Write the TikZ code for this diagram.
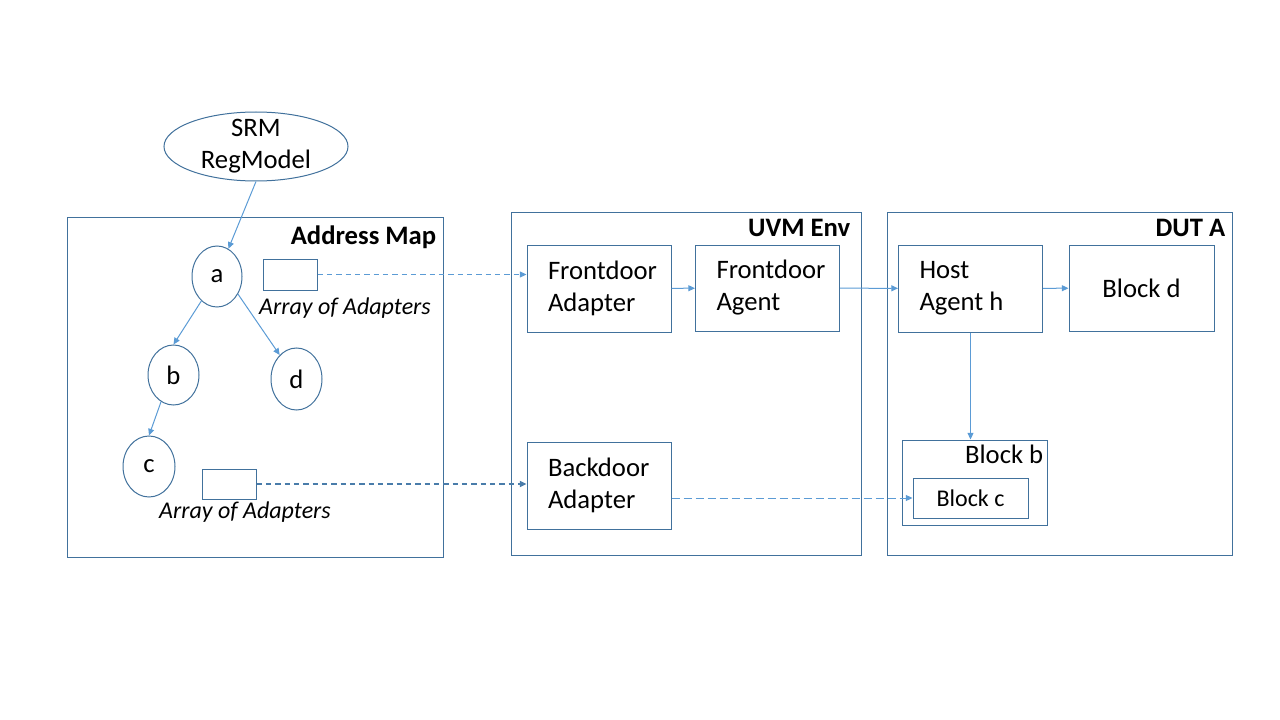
\documentclass[tikz,border=0pt]{standalone}
\usepackage{fontspec}
\setmainfont{Carlito}
\usetikzlibrary{arrows.meta,shapes.geometric,positioning}
\definecolor{boxblue}{HTML}{41719C}
\definecolor{linkblue}{HTML}{5B9BD5}

\tikzset{
    >={Triangle[length=5pt,width=4.5pt]},
    box/.style={draw=boxblue, line width=0.75pt, inner sep=0pt, font=\fontsize{20}{24}\selectfont},
    blk/.style={box, align=flush left, text width=76.5pt, inner xsep=15.75pt},
    oval/.style={box, ellipse},
    title/.style={anchor=north east, inner sep=0pt, font=\fontsize{20}{24}\selectfont\bfseries},
    note/.style={inner sep=0pt, font=\fontsize{18}{22}\selectfont\itshape},
    link/.style={->, draw=linkblue, line width=0.75pt},
    dlink/.style={link, dash pattern=on 4pt off 3pt},
}

\begin{document}
\begin{tikzpicture}[x=0.75pt, y=-0.75pt]
    \useasboundingbox (0,0) rectangle (1280,720);
    % frames:
    \node[box, minimum width=282pt, minimum height=254.25pt] (amap) at (255,387.5) {};
    \node[box, minimum width=262.5pt, minimum height=256.5pt] (uvm) at (686,384) {};
    \node[box, minimum width=258.75pt, minimum height=256.5pt] (dut) at (1059.5,384) {};
    \node[title] at ([xshift=-5.25pt, yshift=-6pt]amap.north east) {Address Map};
    \node[title] at ([xshift=-8.25pt, yshift=-4.5pt]uvm.north east) {UVM Env};
    \node[title] at ([xshift=-5.25pt, yshift=-4.5pt]dut.north east) {DUT A};
    % reg model:
    \node[oval, inner sep=-5pt, align=center, minimum width=138pt, minimum height=51.75pt] (srm) at (256,146.5) {SRM\\RegModel};
    \node[oval, minimum width=37.5pt, minimum height=45.75pt] (a) at (217,276.5) {a};
    \node[oval, minimum width=38.25pt, minimum height=45pt] (b) at (173.5,375) {b};
    \node[oval, minimum width=38.25pt, minimum height=46.5pt] (d) at (296.5,379) {d};
    \node[oval, minimum width=39pt, minimum height=45.75pt] (c) at (149,466.5) {c};
    \node[box, minimum width=40.5pt, minimum height=23.25pt] (arr1) at (290,274.5) {};
    \node[box, minimum width=40.5pt, minimum height=22.5pt] (arr2) at (229,484) {};
    \node[note] (arr1txt) at (345,308) {Array of Adapters};
    \node[note] (arr2txt) at (245,512) {Array of Adapters};
    % blocks:
    \node[blk, minimum height=65.25pt] (fda) at (599,288.5) {Frontdoor\\Adapter};
    \node[blk, minimum height=64.5pt] (fag) at (767.5,288) {Frontdoor\\Agent};
    \node[blk, minimum height=65.25pt] (bda) at (599,485.5) {Backdoor\\Adapter};
    \node[blk, minimum height=65.25pt] (host) at (970.5,288.5) {Host\\Agent h};
    \node[box, minimum width=108.75pt, minimum height=64.5pt] (blkd) at (1141.5,288) {Block d};
    \node[box, minimum width=108.75pt, minimum height=63.75pt] (blkb) at (974.5,482.5) {};
    \node[anchor=north east, inner sep=0pt, font=\fontsize{20}{24}\selectfont] at ([xshift=-3pt, yshift=-4pt]blkb.north east) {Block b};
    \node[box, minimum width=86.25pt, minimum height=30pt, font=\fontsize{18}{22}\selectfont] (blkc) at (970.5,498) {Block c};
    % arrows:
    \draw[link] (srm.south) -- (a);
    \draw[link] (a) -- (b.north);
    \draw[link] (a.-40) -- (d.125);
    \draw[link] (b.245) -- (c.north);
    \draw[dlink] (arr1.east) -- (arr1.east -| fda.west);
    \draw[dlink, line width=1.25pt, draw=linkblue!80!black] (arr2.east) -- (arr2.east -| bda.west);
    \draw[link] (fda) -- (fag);
    \draw[link] (fag) -- (host);
    \draw[link] (host) -- (blkd);
    \draw[link] (host.south) -- (host.south |- blkb.north);
    \draw[link, dash pattern=on 6pt off 3pt] (blkc.west -| bda.east) -- (blkc.west);
\end{tikzpicture}
\end{document}
